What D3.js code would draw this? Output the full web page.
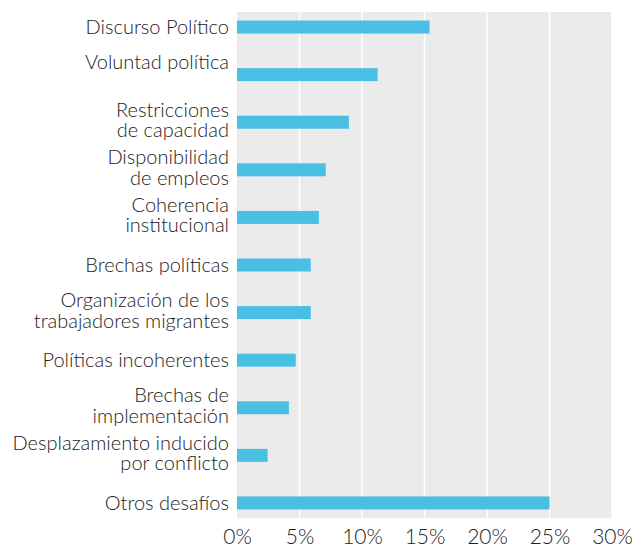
<!DOCTYPE html>
<html>
<head>
<meta charset="utf-8">
<script src="https://cdn.jsdelivr.net/npm/d3@7"></script>
<style>
  body { margin: 0; background: #fff; }
  text { font-family: Lato, "Open Sans", sans-serif; font-weight: 300; fill: #222; }
</style>
</head>
<body>
<div id="main"></div>
<script>
// categories (each entry = lines of the label), values in %
var categories = [
  ['Discurso Político'],
  ['Voluntad política', ''],
  ['Restricciones', 'de capacidad'],
  ['Disponibilidad', 'de empleos'],
  ['Coherencia', 'institucional'],
  ['Brechas políticas'],
  ['Organización de los', 'trabajadores migrantes'],
  ['Políticas incoherentes'],
  ['Brechas de', 'implementación'],
  ['Desplazamiento inducido', 'por conflicto'],
  ['Otros desafíos']
];
var values = [15.4, 11.25, 8.95, 7.1, 6.55, 5.9, 5.9, 4.7, 4.15, 2.45, 25.0];
var ticks = [0, 5, 10, 15, 20, 25, 30];

var width = 632, height = 549,
    mLeft = 237, mRight = 612, mTop = 12, mBottom = 518;

var svg = d3.select('#main').append('svg')
    .attr('width', width).attr('height', height);

var x = d3.scaleLinear().domain([0, 30]).range([mLeft, mRight]);
var y = d3.scaleBand()
    .domain(d3.range(categories.length))
    .range([mTop, mBottom])
    .paddingInner(0.727)
    .paddingOuter(0.18);

svg.append('rect')
    .attr('x', mLeft).attr('y', mTop)
    .attr('width', mRight - mLeft).attr('height', mBottom - mTop)
    .attr('fill', '#ebebeb');

svg.selectAll('line.grid')
    .data(ticks.slice(1))
    .enter().append('line')
    .attr('class', 'grid')
    .attr('x1', function(d) { return x(d); })
    .attr('x2', function(d) { return x(d); })
    .attr('y1', mTop).attr('y2', mBottom)
    .attr('stroke', '#ffffff').attr('stroke-width', 1.5);

svg.selectAll('rect.bar')
    .data(values)
    .enter().append('rect')
    .attr('class', 'bar')
    .attr('x', x(0))
    .attr('y', function(d, i) { return y(i); })
    .attr('width', function(d) { return x(d) - x(0); })
    .attr('height', y.bandwidth())
    .attr('fill', '#48bfe3');

// category labels
var lab = svg.selectAll('text.cat')
    .data(categories)
    .enter().append('text')
    .attr('class', 'cat')
    .attr('text-anchor', 'end')
    .attr('font-size', 20)
    .attr('x', mLeft - 8)
    .attr('y', function(d, i) {
        var c = y(i) + y.bandwidth() / 2;
        return d.length > 1 ? c - 5.5 : c + 7;
    });
lab.selectAll('tspan')
    .data(function(d) { return d; })
    .enter().append('tspan')
    .attr('x', mLeft - 8)
    .attr('dy', function(d, j) { return j === 0 ? 0 : 20.5; })
    .text(function(d) { return d; });

// x axis labels
var xAxis = d3.axisBottom(x)
    .tickValues(ticks)
    .tickSize(0)
    .tickPadding(11)
    .tickFormat(function(d) { return d + '%'; });
var gx = svg.append('g')
    .attr('transform', 'translate(0,' + mBottom + ')')
    .call(xAxis);
gx.select('.domain').remove();
gx.selectAll('text')
    .attr('font-size', 21)
    .attr('fill', '#222')
    .style('font-family', 'Lato, sans-serif')
    .style('font-weight', 300);
</script>
</body>
</html>
